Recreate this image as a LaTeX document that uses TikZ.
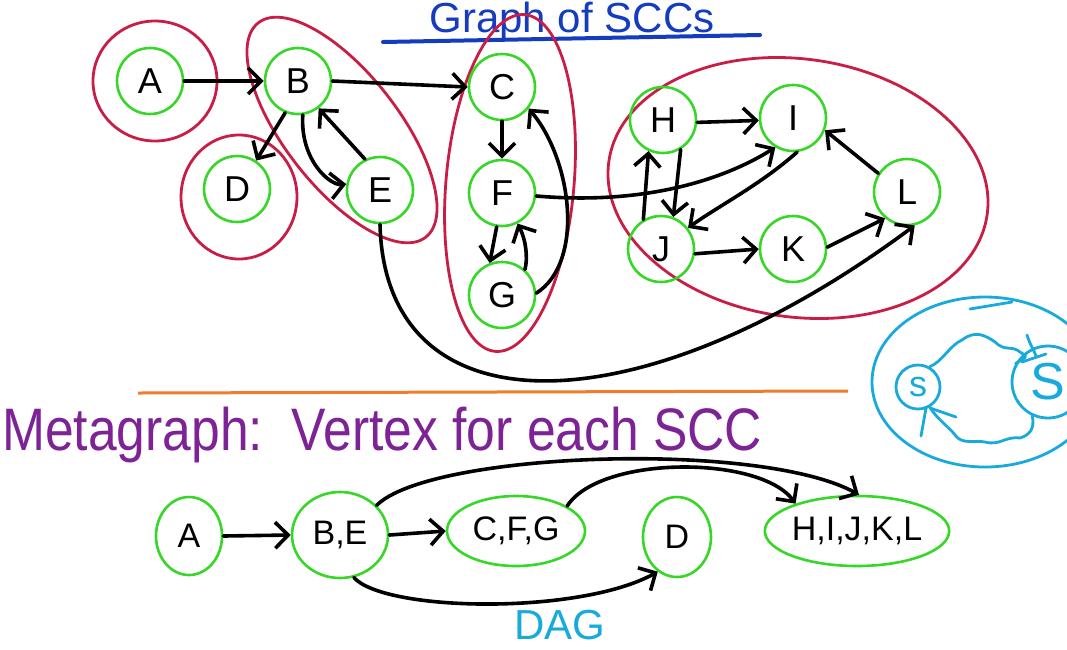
\documentclass[tikz,border=0pt]{standalone}
\usepackage{fontspec}
\usepackage{graphicx}
\setmainfont{Liberation Sans}
\usetikzlibrary{arrows.meta,shapes.geometric}
\definecolor{ngreen}{RGB}{55,215,40}
\definecolor{sccred}{RGB}{200,30,70}
\definecolor{tblue}{RGB}{20,60,190}
\definecolor{mpurple}{RGB}{125,35,150}
\definecolor{lorange}{RGB}{240,125,45}
\definecolor{scyan}{RGB}{25,170,220}
\tikzset{
  vert/.style={circle,draw=ngreen,line width=2.6pt,minimum size=66pt,inner sep=0pt,font=\fontsize{36}{38}\selectfont},
  mvert/.style={ellipse,draw=ngreen,line width=2.6pt,inner sep=0pt,font=\fontsize{34}{38}\selectfont},
  arr/.style={line width=3.6pt,black,line cap=round,-{Straight Barb[length=13pt,width=26pt,line width=3.6pt]}},
  blob/.style={draw=sccred,line width=2.8pt},
  sk/.style={draw=scyan,line width=2.8pt,line cap=round,line join=round}
}
\begin{document}
\begin{tikzpicture}[x=1pt,y=-1pt]
\useasboundingbox (0,0) rectangle (1067,649);
\clip (0,0) rectangle (1067,649);
\fill[white] (0,0) rectangle (1067,649);
% title
\node[anchor=base,text=tblue,inner sep=0pt,font=\fontsize{42}{46}\selectfont] (title) at (572,32) {Graph of SCCs};
\draw[tblue,line width=4pt,line cap=round] (383,42) -- (760,35);
% SCC blobs
\draw[blob] (155,81) ellipse [x radius=62, y radius=60];
\draw[blob] (239,197) ellipse [x radius=58, y radius=62];
\draw[blob,rotate around={-52:(342,130)}] (342,130) ellipse [x radius=136, y radius=57];
\draw[blob,rotate around={-5:(510,183)}] (510,183) ellipse [x radius=64, y radius=169];
\draw[blob,rotate around={-8:(798,188)}] (798,188) ellipse [x radius=191, y radius=129];
% vertices
\node[vert] (A) at (150,81) {A};
\node[vert] (B) at (298,81) {B};
\node[vert] (D) at (237,189) {D};
\node[vert] (E) at (380,190) {E};
\node[vert] (C) at (502,87) {C};
\node[vert] (F) at (502,193) {F};
\node[vert] (G) at (502,295) {G};
\node[vert] (H) at (663,120) {H};
\node[vert] (I) at (793,118) {I};
\node[vert] (J) at (661,249) {J};
\node[vert] (K) at (793,249) {K};
\node[vert] (L) at (907,192) {L};
% edges
\draw[arr] (A.east) -- (B.west);
\draw[arr] (B.east) -- (C.west);
\draw[arr] (B.-112) -- (D.56);
\draw[arr] (B.-82) .. controls (300,160) and (330,186) .. (E.170);
\draw[arr] (E.116) -- (B.-53);
\draw[arr] (C.south) -- (F.north);
\draw[arr] (F.-99) -- (G.111);
\draw[arr] (G.48) .. controls (528,258) and (526,240) .. (F.-63);
\draw[arr] (G.3) .. controls (585,262) and (572,160) .. (C.-39);
\draw[arr] (F.-5) .. controls (640,205) and (720,182) .. (I.-121);
\draw[arr] (E.south) .. controls (385,435) and (640,430) .. (L.-77);
\draw[arr] (H.-4) -- (I.184);
\draw[arr] (H.-59) -- (J.69);
\draw[arr] (J.121) -- (H.-115);
\draw[arr] (I.-83) .. controls (760,185) and (720,205) .. (J.38);
\draw[arr] (J.-8) -- (K.west);
\draw[arr] (K.3) -- (L.-130);
\draw[arr] (L.147) -- (I.-21);
% separator
\draw[lorange,line width=3pt] (138,393) -- (848,391);
% blue sketch
\draw[sk] (985,382) ellipse [x radius=113, y radius=85];
\draw[sk] (970,309) -- (1012,302);
\node[sk,circle,minimum size=44pt,inner sep=0pt,text=scyan,font=\fontsize{36}{38}\selectfont] (s1) at (918,387) {s};
\node[sk,circle,minimum size=72pt,inner sep=0pt,text=scyan,font=\fontsize{52}{54}\selectfont] (s2) at (1048,382) {S};
\draw[sk] (s1.60) .. controls (942,362) and (950,345) .. (962,340) .. controls (975,330) and (985,335) .. (995,342) .. controls (1005,352) and (1012,345) .. (1020,352) .. controls (1026,356) and (1030,356) .. (s2.150);
\draw[sk] (s1.-60) .. controls (938,420) and (950,428) .. (955,435) .. controls (962,445) and (975,440) .. (985,442) .. controls (1000,446) and (1005,436) .. (1020,438) .. controls (1030,435) and (1035,428) .. (s2.-115);
\draw[sk] (926,408) -- (921,436);
\draw[sk] (930,408) -- (956,417);
\draw[sk] (1027,335) .. controls (1030,345) and (1034,350) .. (1036,356);
\draw[sk] (1022,362) -- (1046,354);
% metagraph title
\node[anchor=base west,inner sep=0pt,text=mpurple,font=\fontsize{60}{64}\selectfont] (meta) at (2,450) {\scalebox{0.86}[1]{Metagraph:\ \ Vertex for each SCC}};
% metagraph vertices
\node[mvert,minimum width=66pt,minimum height=78pt] (mA) at (189,536) {A};
\node[mvert,minimum width=96pt,minimum height=86pt] (mBE) at (340,535) {B,E};
\node[mvert,minimum width=138pt,minimum height=70pt] (mCFG) at (516,531) {C,F,G};
\node[mvert,minimum width=68pt,minimum height=80pt] (mD) at (677,537) {D};
\node[mvert,minimum width=174pt,minimum height=70pt] (mH) at (857,531) {H,I,J,K,L};
% metagraph edges
\draw[arr] (mA.east) -- (mBE.west);
\draw[arr] (mBE.east) -- (mCFG.west);
\draw[arr] (mBE.-72) .. controls (385,612) and (580,615) .. (mD.-119);
\draw[arr] (mBE.39) .. controls (430,452) and (760,440) .. (mH.87);
\draw[arr] (mCFG.26) .. controls (600,455) and (760,455) .. (mH.156);
% DAG
\node[anchor=base,inner sep=0pt,text=scyan,font=\fontsize{42}{46}\selectfont] (dag) at (560,639) {DAG};
\end{tikzpicture}
\end{document}
